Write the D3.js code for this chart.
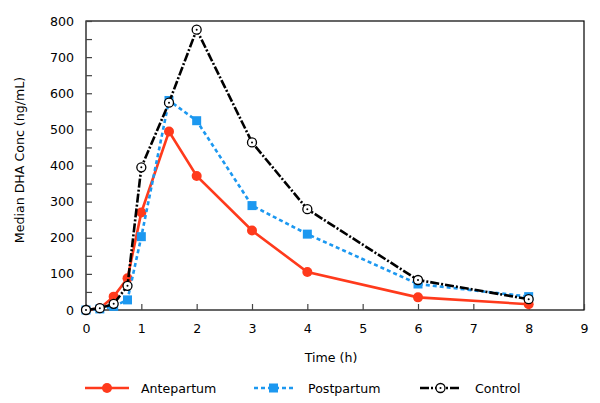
<!DOCTYPE html>
<html><head><meta charset="utf-8">
<script src="https://cdn.jsdelivr.net/npm/d3@7"></script>
<style>body{margin:0;background:#fff}svg{display:block}text{font-family:"DejaVu Sans",sans-serif;}</style>
</head><body>
<svg id="c" width="600" height="403"></svg>
<script>
const times = [0, 0.25, 0.5, 0.75, 1, 1.5, 2, 3, 4, 6, 8];
const antepartum = [0, 5, 37, 88, 270, 494, 371, 220, 105, 35, 16];
const postpartum = [0, 3, 10, 28, 203, 580, 524, 289, 210, 72, 37];
const control = [0, 5, 17, 67, 395, 574, 776, 464, 279, 83, 30];
const xTicks = [0,1,2,3,4,5,6,7,8,9];
const yTicks = [0,100,200,300,400,500,600,700,800];
const yMinor = d3.range(0, 801, 50);
const seriesNames = ["Antepartum","Postpartum","Control"];

const svg = d3.select("#c");
const L=86, R=584, T=21, B=310;
const FS=12.6;
const x = d3.scaleLinear().domain([0,9]).range([L,R]);
const y = d3.scaleLinear().domain([0,800]).range([B,T]);

svg.append("rect").attr("x",L).attr("y",T).attr("width",R-L).attr("height",B-T)
  .attr("fill","none").attr("stroke","#000").attr("stroke-width",1.2);

const xa = svg.append("g").attr("transform",`translate(0,${B})`)
  .call(d3.axisBottom(x).tickValues(xTicks).tickSize(-6).tickPadding(14).tickFormat(d3.format("d")));
xa.select(".domain").remove();
xa.selectAll(".tick line").attr("stroke","#444").attr("stroke-width",1.2);
xa.selectAll("text").attr("font-size",FS).attr("fill","#000");

const ya = svg.append("g").attr("transform",`translate(${L},0)`)
  .call(d3.axisLeft(y).tickValues(yMinor).tickSize(-6).tickPadding(12).tickFormat(d=>yTicks.includes(d)?d:""));
ya.select(".domain").remove();
ya.selectAll(".tick line").attr("stroke","#444").attr("stroke-width",1.2);
ya.selectAll("text").attr("font-size",FS).attr("fill","#000");

svg.append("text").attr("x",(L+R)/2-4).attr("y",362).attr("text-anchor","middle")
  .attr("font-size",FS).text("Time (h)");
svg.append("text").attr("transform",`translate(24,160) rotate(-90)`)
  .attr("text-anchor","middle").attr("font-size",FS).text("Median DHA Conc (ng/mL)");

const line = d3.line().x(d=>x(d[0])).y(d=>y(d[1]));
const red="#ff3a1c", blue="#1c98f0";
const styles = [
  {data:antepartum, color:red, dash:null, marker:"circle"},
  {data:postpartum, color:blue, dash:"4,3", marker:"square"},
  {data:control, color:"#000", dash:"9,2,2,2", marker:"open"}
];
function drawMarker(g, type, cx, cy, color){
  if(type==="circle") g.append("circle").attr("cx",cx).attr("cy",cy).attr("r",5).attr("fill",color);
  else if(type==="square") g.append("rect").attr("x",cx-4.5).attr("y",cy-4.5).attr("width",9).attr("height",9).attr("fill",color);
  else {
    g.append("circle").attr("cx",cx).attr("cy",cy).attr("r",4.5).attr("fill","#fff").attr("stroke","#000").attr("stroke-width",1.3);
    g.append("circle").attr("cx",cx).attr("cy",cy).attr("r",1).attr("fill","#000");
  }
}
styles.forEach(s=>{
  const pts = times.map((t,i)=>[t,s.data[i]]);
  svg.append("path").datum(pts).attr("d",line).attr("fill","none").attr("stroke",s.color)
    .attr("stroke-width",2.6).attr("stroke-dasharray",s.dash);
  const g = svg.append("g");
  pts.forEach(p=>drawMarker(g,s.marker,x(p[0]),y(p[1]),s.color));
});

const legX=[[85,129,141],[254,293,308],[420,461,475]];
const ly=388;
styles.forEach((s,i)=>{
  const [a,b,tx]=legX[i];
  svg.append("line").attr("x1",a).attr("x2",b).attr("y1",ly).attr("y2",ly).attr("stroke",s.color)
    .attr("stroke-width",2.6).attr("stroke-dasharray",s.dash);
  drawMarker(svg.append("g"),s.marker,(a+b)/2,ly,s.color);
  svg.append("text").attr("x",tx).attr("y",ly+4.5).attr("font-size",FS).text(seriesNames[i]);
});
</script>
</body></html>
